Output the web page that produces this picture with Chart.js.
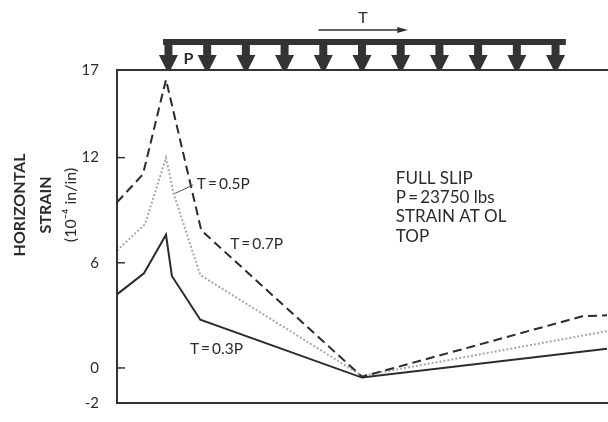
<!DOCTYPE html>
<html lang="en">
<head>
<meta charset="UTF-8">
<title>Horizontal strain - full slip</title>
<script src="https://cdn.jsdelivr.net/npm/chart.js"></script>
<style>
    body { margin: 0; background: #fff; }
    #wrap { width: 608px; height: 422px; }
</style>
</head>
<body>
<div id="wrap"><canvas id="strainChart" width="608" height="422"></canvas></div>
<script>
// position along the section (arbitrary units, 0 = left edge of the plot)
const solidX  = [0, 5.5, 10, 11.2, 17, 50, 100];
const solidY  = [4.2, 5.4, 7.6, 5.25, 2.75, -0.55, 1.1];      // T = 0.3P
const dottedX = [0, 5.7, 10, 11.6, 17, 50, 100];
const dottedY = [6.7, 8.2, 12.0, 9.9, 5.3, -0.45, 2.1];       // T = 0.5P
const dashedX = [0, 5.3, 10, 17.2, 50, 95, 100];
const dashedY = [9.45, 11.05, 16.45, 7.85, -0.5, 2.95, 3.0];  // T = 0.7P

const yTicks = [17, 12, 6, 0, -2];
const loadX = [10.5, 18.4, 26.3, 34.2, 42.1, 50.0, 57.9, 65.8, 73.7, 81.6, 89.5];

const ink = '#2b2b2b';
const font = 'Lato, "Open Sans", sans-serif';

function pts(xs, ys) {
    return xs.map((x, i) => ({ x: x, y: ys[i] }));
}

// frame, inner tick marks, load diagram and text notes
const decor = {
    id: 'decor',
    afterDraw(chart) {
        const ctx = chart.ctx;
        const a = chart.chartArea;
        const xs = chart.scales.x, ys = chart.scales.y;
        const px = v => xs.getPixelForValue(v);
        const py = v => ys.getPixelForValue(v);
        ctx.save();

        // plot frame
        ctx.strokeStyle = '#333';
        ctx.lineWidth = 2;
        ctx.beginPath();
        ctx.moveTo(chart.width, a.top);
        ctx.lineTo(a.left, a.top);
        ctx.lineTo(a.left, a.bottom);
        ctx.lineTo(chart.width, a.bottom);
        ctx.stroke();

        // tick marks pointing into the plot
        ctx.lineWidth = 1.5;
        yTicks.forEach(t => {
            ctx.beginPath();
            ctx.moveTo(a.left, py(t));
            ctx.lineTo(a.left + 8, py(t));
            ctx.stroke();
        });

        // distributed load P with arrows
        ctx.fillStyle = '#333';
        ctx.strokeStyle = '#333';
        ctx.fillRect(px(9.4), a.top - 31, px(91.6) - px(9.4), 6);
        loadX.forEach(v => {
            const x = px(v);
            ctx.fillRect(x - 4, a.top - 27, 8, 14);
            ctx.beginPath();
            ctx.moveTo(x - 9.5, a.top - 15);
            ctx.lineTo(x + 9.5, a.top - 15);
            ctx.lineTo(x + 2, a.top);
            ctx.lineTo(x - 2, a.top);
            ctx.closePath();
            ctx.fill();
        });

        // traction T arrow
        ctx.lineWidth = 1.5;
        ctx.beginPath();
        ctx.moveTo(px(41.1), a.top - 40);
        ctx.lineTo(px(57.5), a.top - 40);
        ctx.stroke();
        ctx.beginPath();
        ctx.moveTo(px(59.4), a.top - 40);
        ctx.lineTo(px(57.2), a.top - 43);
        ctx.lineTo(px(57.2), a.top - 37);
        ctx.closePath();
        ctx.fill();

        ctx.fillStyle = ink;
        ctx.textBaseline = 'middle';
        ctx.textAlign = 'center';
        ctx.font = '16px ' + font;
        ctx.fillText('T', px(50.2), a.top - 52);
        ctx.font = 'bold 16px ' + font;
        ctx.fillText('P', px(14.6), a.top - 11);

        // curve labels
        ctx.textAlign = 'left';
        ctx.font = '15.5px ' + font;
        ctx.fillText('T\u2009=\u20090.5P', px(16.3), py(10.5));
        ctx.fillText('T\u2009=\u20090.7P', px(23.1), py(7.07));
        ctx.fillText('T\u2009=\u20090.3P', px(14.9), py(1.1));
        ctx.lineWidth = 1;
        ctx.strokeStyle = '#555';
        ctx.beginPath();
        ctx.moveTo(px(11.8), py(9.95));
        ctx.lineTo(px(15.6), py(10.45));
        ctx.stroke();

        // test note
        ctx.font = '17px ' + font;
        const note = ['FULL SLIP', 'P\u2009=\u200923750 lbs', 'STRAIN AT OL', 'TOP'];
        const noteY = [10.83, 9.72, 8.62, 7.51];
        note.forEach((s, i) => ctx.fillText(s, px(56.9), py(noteY[i])));

        // axis title, three rotated lines
        ctx.textAlign = 'center';
        const titles = ['HORIZONTAL', 'STRAIN', '(10\u207B\u2074 in/in)'];
        const titleX = [20, 46, 71];
        titles.forEach((s, i) => {
            ctx.save();
            ctx.font = (i < 2 ? 'bold 16px ' : '16px ') + font;
            ctx.translate(titleX[i], py(9.3));
            ctx.rotate(-Math.PI / 2);
            ctx.fillText(s, 0, 0);
            ctx.restore();
        });
        ctx.restore();
    }
};

new Chart(document.getElementById('strainChart').getContext('2d'), {
    type: 'line',
    data: {
        datasets: [
            {
                label: 'T = 0.7P',
                data: pts(dashedX, dashedY),
                borderColor: ink,
                borderWidth: 2,
                borderDash: [9, 5],
                pointRadius: 0,
                tension: 0
            },
            {
                label: 'T = 0.5P',
                data: pts(dottedX, dottedY),
                borderColor: '#a8a8a8',
                borderWidth: 2,
                borderDash: [2, 2],
                pointRadius: 0,
                tension: 0
            },
            {
                label: 'T = 0.3P',
                data: pts(solidX, solidY),
                borderColor: ink,
                borderWidth: 2,
                pointRadius: 0,
                tension: 0
            }
        ]
    },
    options: {
        responsive: false,
        animation: false,
        layout: { padding: { top: 70, bottom: 10, left: 0, right: 1 } },
        plugins: {
            legend: { display: false },
            tooltip: { enabled: false }
        },
        scales: {
            x: {
                type: 'linear',
                min: 0,
                max: 100,
                display: false
            },
            y: {
                min: -2,
                max: 17,
                afterBuildTicks: axis => { axis.ticks = yTicks.map(v => ({ value: v })); },
                afterFit: axis => { axis.width = 117; },
                grid: { display: false },
                border: { display: false },
                ticks: {
                    padding: 10,
                    color: ink,
                    font: { family: font, size: 15 }
                }
            }
        }
    },
    plugins: [decor]
});
</script>
</body>
</html>
